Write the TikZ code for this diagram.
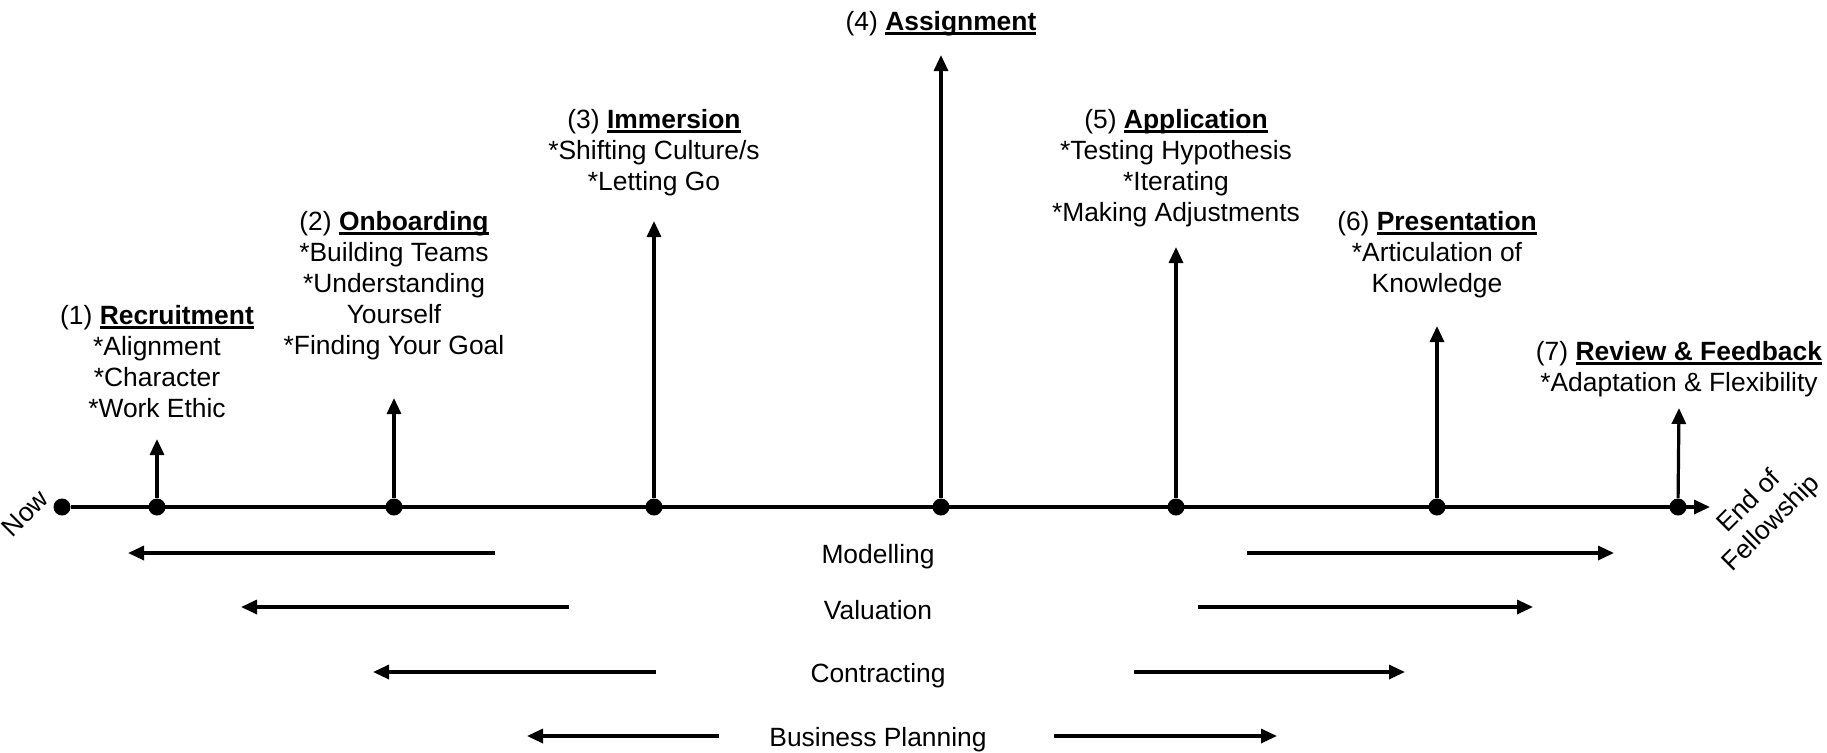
\documentclass[tikz,border=0pt]{standalone}
\usepackage{fontspec}
\setmainfont{Liberation Sans}
\usetikzlibrary{arrows.meta, positioning}

% bold title with a heavier underline
\newcommand{\stagehead}[1]{\setbox0\hbox{\textbf{#1}}\rlap{\rule[-2pt]{\wd0}{1.1pt}}\box0}

\begin{document}
\begin{tikzpicture}[x=0.5pt, y=-0.5pt,
  dot/.style={circle, fill=black, inner sep=0pt, minimum size=8.5pt},
  stage/.style={align=center, inner sep=0pt, anchor=north, font=\fontsize{13.2}{15.5}\selectfont},
  phase/.style={inner sep=0pt, font=\fontsize{13.2}{15.5}\selectfont},
  tline/.style={line width=1.6pt, -{Triangle[length=8pt, width=7pt]}}]
  \useasboundingbox (0,0) rectangle (1827,752);

  % Dots on the time line
  \node[dot] (now) at (62,507) {};
  \node[dot] (d1) at (157,507) {};
  \node[dot] (d2) at (394,507) {};
  \node[dot] (d3) at (654,507) {};
  \node[dot] (d4) at (941,507) {};
  \node[dot] (d5) at (1176,507) {};
  \node[dot] (d6) at (1437,507) {};
  \node[dot] (d7) at (1678,507) {};
  \coordinate (tend) at (1710,507);

  % Arrow tops
  \coordinate (t1) at (157,439);
  \coordinate (t2) at (394,398);
  \coordinate (t3) at (654,221);
  \coordinate (t4) at (941,55);
  \coordinate (t5) at (1176,247);
  \coordinate (t6) at (1437,326);
  \coordinate (t7) at (1679,408);

  % Time line and stage arrows
  \draw[tline] (now) -- (tend);
  \draw[tline] (d1) -- (t1);
  \draw[tline] (d2) -- (t2);
  \draw[tline] (d3) -- (t3);
  \draw[tline] (d4) -- (t4);
  \draw[tline] (d5) -- (t5);
  \draw[tline] (d6) -- (t6);
  \draw[tline] (d7) -- (t7);

  % End labels
  \node[phase, rotate=45] (nowlbl) at (25,513) {Now};
  \node[phase, rotate=45, align=center] (endlbl) at (1761,513) {End of\\Fellowship};

  % Stages
  \node[stage] (recruit) at (157,305) {(1) \stagehead{Recruitment}\\*Alignment\\*Character\\*Work Ethic};
  \node[stage] (onboard) at (394,211) {(2) \stagehead{Onboarding}\\*Building Teams\\*Understanding\\Yourself\\*Finding Your Goal};
  \node[stage] (immerse) at (654,109) {(3) \stagehead{Immersion}\\*Shifting Culture/s\\*Letting Go};
  \node[stage] (assign) at (941,11) {(4) \stagehead{Assignment}};
  \node[stage] (apply) at (1176,109) {(5) \stagehead{Application}\\*Testing Hypothesis\\*Iterating\\*Making Adjustments};
  \node[stage] (present) at (1437,211) {(6) \stagehead{Presentation}\\*Articulation of\\Knowledge};
  \node[stage] (review) at (1679,341) {(7) \stagehead{Review \& Feedback}\\*Adaptation \& Flexibility};

  % Phases below the time line
  \node[phase] (model) at (878,557) {Modelling};
  \node[phase] (value) at (878,610) {Valuation};
  \node[phase] (contract) at (878,676) {Contracting};
  \node[phase] (plan) at (878,740) {Business Planning};

  \coordinate (ml1) at (495,553); \coordinate (ml2) at (128,553);
  \coordinate (mr1) at (1247,553); \coordinate (mr2) at (1614,553);
  \coordinate (vl1) at (569,607); \coordinate (vl2) at (241,607);
  \coordinate (vr1) at (1198,607); \coordinate (vr2) at (1533,607);
  \coordinate (cl1) at (656,672); \coordinate (cl2) at (373,672);
  \coordinate (cr1) at (1134,672); \coordinate (cr2) at (1405,672);
  \coordinate (pl1) at (719,736); \coordinate (pl2) at (527,736);
  \coordinate (pr1) at (1054,736); \coordinate (pr2) at (1277,736);

  \draw[tline] (ml1) -- (ml2);
  \draw[tline] (mr1) -- (mr2);
  \draw[tline] (vl1) -- (vl2);
  \draw[tline] (vr1) -- (vr2);
  \draw[tline] (cl1) -- (cl2);
  \draw[tline] (cr1) -- (cr2);
  \draw[tline] (pl1) -- (pl2);
  \draw[tline] (pr1) -- (pr2);
\end{tikzpicture}
\end{document}
